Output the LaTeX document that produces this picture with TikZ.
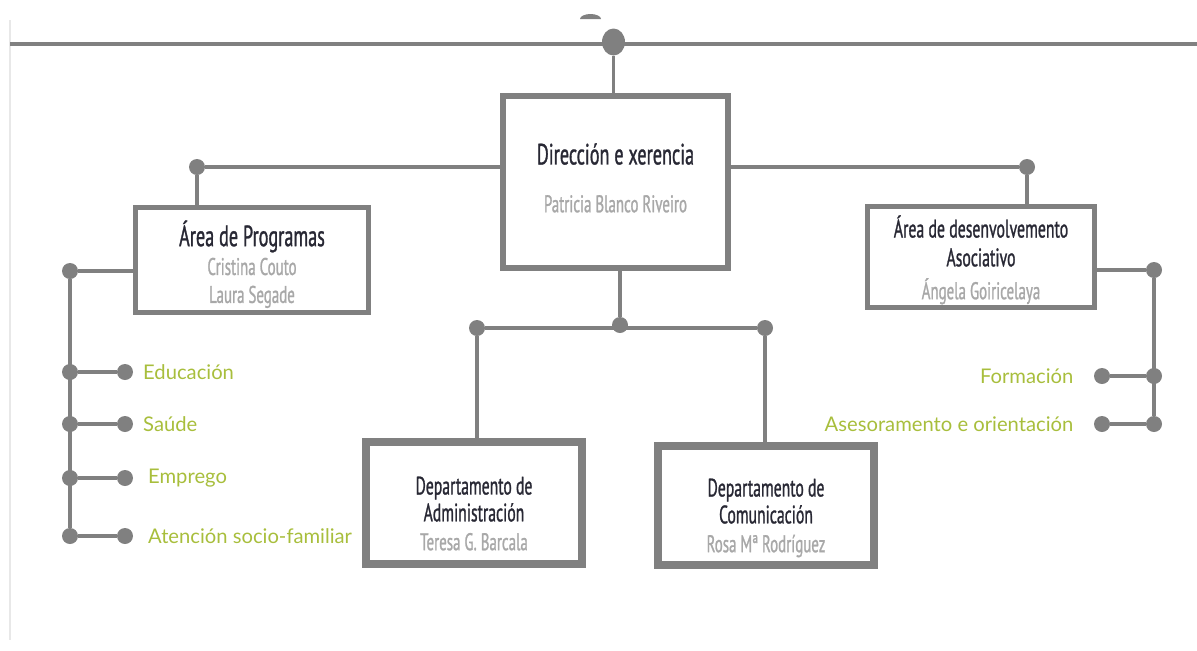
\documentclass[tikz,border=0pt]{standalone}
\usepackage{fontspec}
\setmainfont{Lato}
\newfontfamily\boxfont[FakeStretch=0.62, FakeBold=1]{PT Sans}
\usetikzlibrary{positioning,backgrounds,shapes.geometric}

\definecolor{linegray}{RGB}{128,128,128}
\definecolor{faintgray}{RGB}{232,232,232}
\definecolor{titledark}{RGB}{40,40,52}
\definecolor{namegray}{RGB}{168,168,168}
\definecolor{areagreen}{RGB}{168,190,60}

\newcommand{\persona}[1]{{\color{namegray}\fontsize{13.7}{18}\selectfont #1}}
\newcommand{\orglines}[2]{\raisebox{-#1}[\height][\depth]{\begin{tabular}{@{}c@{}}#2\end{tabular}}}

\begin{document}
\begin{tikzpicture}[
      x=0.02cm, y=-0.02cm,
      link/.style={draw=linegray, line width=0.07cm},
      dot/.style={circle, fill=linegray, inner sep=0pt, minimum size=0.32cm},
      orgbox/.style={
        draw=linegray,
        fill=white,
        line width=#1,
        inner sep=0pt,
        text=titledark,
        font=\boxfont\fontsize{16.7}{18}\selectfont
      },
      orgbox/.default=0.1cm,
      area/.style={text=areagreen, inner sep=0pt, font=\fontsize{11.5}{14}\selectfont}
    ]

      \useasboundingbox (0,0) rectangle (1197,650);

      % rail at the top
      \coordinate (railw) at (10,44);
      \coordinate (raile) at (1197,44);
      \coordinate (edgetop) at (10,20);
      \coordinate (edgebot) at (10,640);
      \draw[faintgray, line width=0.04cm] (edgetop) -- (edgebot);
      \draw[linegray, line width=0.09cm] (railw) -- (raile);
      \fill[linegray] (580,19) arc[start angle=180, end angle=0, x radius=0.21cm, y radius=0.1cm] -- cycle;
      \node[ellipse, fill=linegray, inner sep=0pt, minimum width=0.46cm, minimum height=0.54cm] (tophub) at (613.5,42) {};

      % boxes
      \node[orgbox=0.12cm, minimum width=4.5cm, minimum height=3.44cm] (dir) at (615.5,182)
        {\orglines{0cm}{Dirección e xerencia\\[9.2pt]\persona{Patricia Blanco Riveiro}}};
      \node[orgbox, minimum width=4.66cm, minimum height=2.1cm] (prog) at (252,260)
        {\orglines{0.13cm}{Área de Programas\\[-1.6pt]\persona{Cristina Couto}\\[-2.1pt]\persona{Laura Segade}}};
      \node[orgbox, minimum width=4.54cm, minimum height=2.02cm,
        font=\boxfont\fontsize{14.5}{18}\selectfont] (desv) at (981,257)
        {\orglines{0.1cm}{Área de desenvolvemento\\[-1.6pt]Asociativo\\[0.7pt]\persona{Ángela Goiricelaya}}};
      \node[orgbox=0.16cm, minimum width=4.32cm, minimum height=2.44cm,
        font=\boxfont\fontsize{14.4}{18}\selectfont] (admin) at (474,503)
        {\orglines{0.26cm}{Departamento de\\[-2.7pt]Administración\\[-1.6pt]\persona{Teresa G. Barcala}}};
      \node[orgbox=0.16cm, minimum width=4.32cm, minimum height=2.38cm,
        font=\boxfont\fontsize{14.4}{18}\selectfont] (comun) at (766,505.5)
        {\orglines{0.25cm}{Departamento de\\[-2.7pt]Comunicación\\[-1.6pt]\persona{Rosa Mª Rodríguez}}};

      % junctions
      \node[dot] (dl) at (197,167) {};
      \node[dot] (dr) at (1027,167) {};
      \node[dot] (bc) at (620,325) {};
      \node[dot] (ba) at (477,328) {};
      \node[dot] (bb) at (765,328) {};
      \node[dot] (lj) at (70,271) {};
      \node[dot] (rj) at (1154,270) {};

      % left list
      \foreach \y/\name/\gap/\txt in {372/edu/0.19/Educación, 424/sau/0.19/Saúde, 478/emp/0.29/Emprego, 536/ate/0.29/Atención socio-familiar}{
        \node[dot] (l\name) at (70,\y) {};
        \node[dot] (e\name) at (125,\y) {};
        \node[area, right=\gap cm of e\name] (t\name) {\txt};
        \begin{scope}[on background layer]
          \draw[link] (l\name) -- (e\name);
        \end{scope}
      }

      % right list
      \foreach \y/\name/\txt in {376/for/Formación, 424/ase/Asesoramento e orientación}{
        \node[dot] (r\name) at (1154,\y) {};
        \node[dot] (f\name) at (1102,\y) {};
        \node[area, left=0.4cm of f\name] (t\name) {\txt};
        \begin{scope}[on background layer]
          \draw[link] (f\name) -- (r\name);
        \end{scope}
      }

      \begin{scope}[on background layer]
        \draw[link] (tophub) -- (tophub |- dir.north);
        \draw[link] (dl) -- (dr);
        \draw[link] (dl) -- (dl |- prog.north);
        \draw[link] (dr) -- (dr |- desv.north);
        \draw[link] (prog.west |- lj) -- (lj) -- (late);
        \draw[link] (desv.east |- rj) -- (rj) -- (rase);
        \draw[link] (dir.south -| bc) -- (bc);
        \draw[link] (ba) -- (bb);
        \draw[link] (ba) -- (ba |- admin.north);
        \draw[link] (bb) -- (bb |- comun.north);
      \end{scope}
    \end{tikzpicture}
\end{document}
